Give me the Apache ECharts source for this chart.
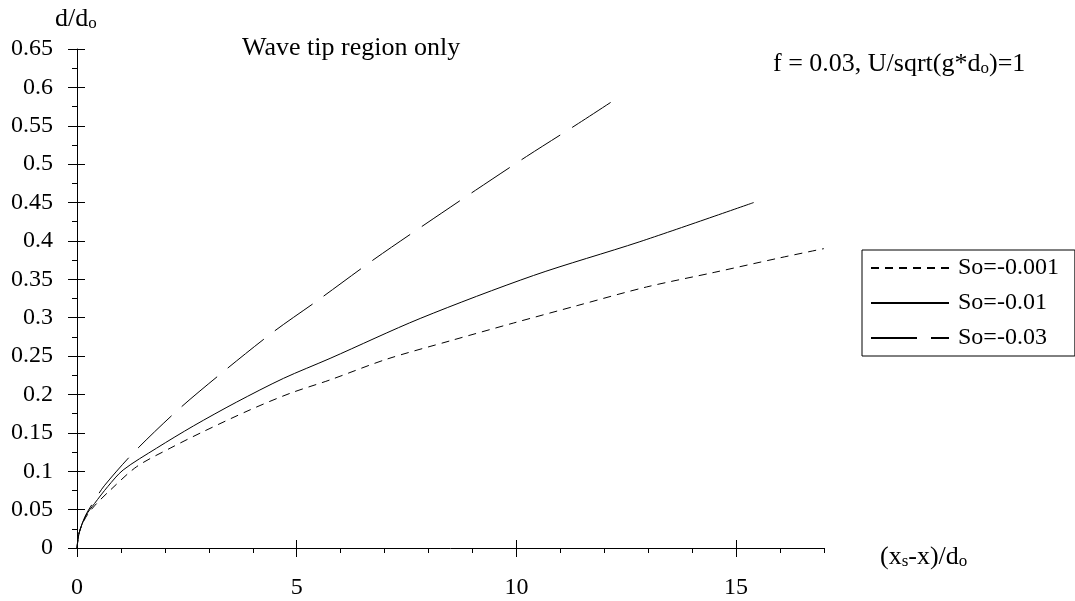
<!DOCTYPE html>
<html>
<head>
<meta charset="utf-8">
<script src="https://cdn.jsdelivr.net/npm/echarts@6/dist/echarts.min.js"></script>
<style>
    html, body { margin: 0; padding: 0; background: #fff; }
    #chart { width: 1075px; height: 601px; }
</style>
</head>
<body>
<div id="chart"></div>
<script>
// ==========================
// 数据
// ==========================
var seriesNames = ['So=-0.001', 'So=-0.01', 'So=-0.03'];

var xA = [0, 0.05, 0.2, 0.4, 0.75, 1.36, 2.12, 2.87, 3.94, 4.85, 5.76, 7.05, 8.5, 9.93, 11.4, 12.96, 14.5, 16.0, 17.0];
var yA = [0, 0.02, 0.04, 0.055, 0.075, 0.106, 0.130, 0.1515, 0.180, 0.2015, 0.219, 0.246, 0.27, 0.293, 0.316, 0.340, 0.359, 0.378, 0.39];

var xB = [0, 0.05, 0.2, 0.4, 0.7, 1.05, 1.81, 2.65, 3.63, 4.70, 5.76, 7.81, 10.39, 12.81, 15.4];
var yB = [0, 0.02, 0.042, 0.058, 0.08, 0.1016, 0.130, 0.159, 0.19, 0.221, 0.247, 0.299, 0.355, 0.399, 0.45];

var xC = [0, 0.05, 0.2, 0.4, 0.62, 1.30, 2.32, 3.38, 4.48, 5.49, 6.76, 7.92, 9.07, 10.23, 11.41, 12.4];
var yC = [0, 0.02, 0.043, 0.062, 0.081, 0.125, 0.181, 0.232, 0.282, 0.323, 0.376, 0.4216, 0.466, 0.510, 0.553, 0.59];

var xMajorTicks = [0, 5, 10, 15];

function pairs(xs, ys) {
    var out = [];
    for (var i = 0; i < xs.length; i++) {
        out.push([xs[i], ys[i]]);
    }
    return out;
}

var font = '"Liberation Serif", "Times New Roman", serif';
var black = '#000';

var chart = echarts.init(document.getElementById('chart'));

// 同一位置叠放几条轴，用来画穿过轴线的主刻度
function xAxisBase(extra) {
    var a = {
        type: 'value', min: 0, max: 17, position: 'bottom',
        axisLine: { show: false, onZero: false },
        axisTick: { show: false },
        axisLabel: { show: false },
        splitLine: { show: false }
    };
    for (var k in extra) a[k] = extra[k];
    return a;
}

var subRich = {
    n: { fontSize: 26, fontFamily: font, lineHeight: 26, fill: black },
    s: { fontSize: 17, fontFamily: font, lineHeight: 14, verticalAlign: 'bottom', fill: black }
};

var option = {
    animation: false,
    backgroundColor: '#fff',
    grid: { left: 77, right: 251, top: 49, bottom: 53, outerBoundsMode: 'none' },
    xAxis: [
        xAxisBase({
            interval: 1,
            axisLine: { show: true, onZero: false, lineStyle: { color: black, width: 1 } },
            axisTick: { show: true, length: 5, lineStyle: { color: black } },
            axisLabel: {
                show: true, margin: 28, color: black, fontSize: 24, fontFamily: font,
                customValues: xMajorTicks
            }
        }),
        xAxisBase({
            interval: 1,
            axisTick: { show: true, length: 9, customValues: xMajorTicks, lineStyle: { color: black } }
        }),
        xAxisBase({
            interval: 1,
            axisTick: { show: true, inside: true, length: 8, customValues: xMajorTicks, lineStyle: { color: black } }
        })
    ],
    yAxis: [
        {
            type: 'value', min: 0, max: 0.65, interval: 0.05, position: 'left',
            axisLine: { show: true, onZero: false, lineStyle: { color: black, width: 1 } },
            axisTick: { show: true, length: 9, lineStyle: { color: black } },
            minorTick: { show: true, splitNumber: 2, length: 5, lineStyle: { color: black } },
            axisLabel: {
                margin: 24, color: black, fontSize: 24, fontFamily: font,
                formatter: function (v) { return String(+v.toFixed(3)); }
            },
            splitLine: { show: false }
        },
        {
            type: 'value', min: 0, max: 0.65, interval: 0.05, position: 'left',
            axisLine: { show: false, onZero: false },
            axisTick: { show: true, inside: true, length: 8, lineStyle: { color: black } },
            axisLabel: { show: false },
            splitLine: { show: false }
        }
    ],
    legend: {
        orient: 'vertical',
        left: 862, top: 250,
        padding: [6, 16, 6, 8],
        itemGap: 11,
        itemWidth: 78,
        itemHeight: 24,
        borderColor: black,
        borderWidth: 1,
        backgroundColor: '#fff',
        itemStyle: { color: 'rgba(0,0,0,0)', borderWidth: 0, opacity: 0 },
        textStyle: { color: black, fontSize: 24, fontFamily: font, padding: [0, 0, 0, 4] },
        data: seriesNames
    },
    graphic: [
        {
            type: 'text', x: 55, y: 19,
            style: { text: '{n|d/d}{s|o}', verticalAlign: 'middle', fill: black, rich: subRich }
        },
        {
            type: 'text', x: 242, y: 48,
            style: { text: 'Wave tip region only', font: '26px ' + font, fill: black, verticalAlign: 'middle' }
        },
        {
            type: 'text', x: 773, y: 64,
            style: { text: '{n|f = 0.03, U/sqrt(g*d}{s|o}{n|)=1}', verticalAlign: 'middle', fill: black, rich: subRich }
        },
        {
            type: 'text', x: 880, y: 557,
            style: { text: '{n|(x}{s|s}{n|-x)/d}{s|o}', verticalAlign: 'middle', fill: black, rich: subRich }
        }
    ],
    series: [
        {
            name: seriesNames[0], type: 'line', symbol: 'none', smooth: 0.3,
            lineStyle: { color: black, width: 1, type: [8, 6] },
            itemStyle: { color: black },
            data: pairs(xA, yA)
        },
        {
            name: seriesNames[1], type: 'line', symbol: 'none', smooth: 0.3,
            lineStyle: { color: black, width: 1, type: 'solid' },
            itemStyle: { color: black },
            data: pairs(xB, yB)
        },
        {
            name: seriesNames[2], type: 'line', symbol: 'none', smooth: 0.3,
            lineStyle: { color: black, width: 1, type: [46, 14] },
            itemStyle: { color: black },
            data: pairs(xC, yC)
        }
    ]
};

chart.setOption(option);
</script>
</body>
</html>
